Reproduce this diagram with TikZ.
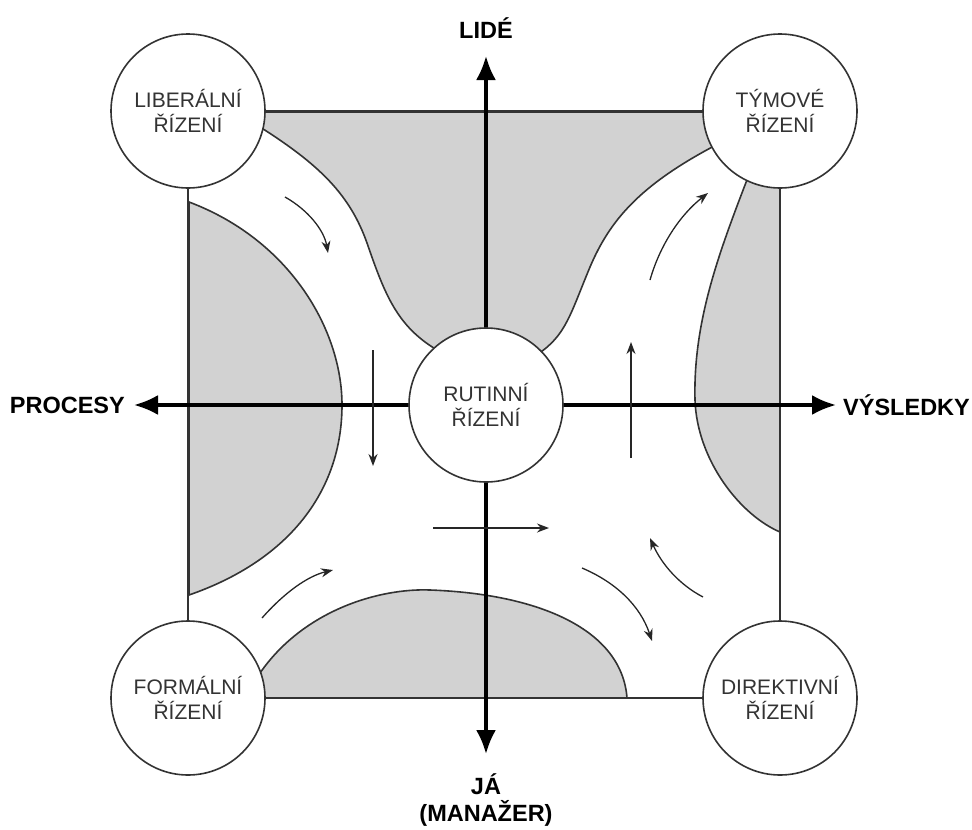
\documentclass[tikz,border=0pt]{standalone}
\usepackage{fontspec}
\setmainfont{Liberation Sans}
\usetikzlibrary{arrows.meta,backgrounds}
\definecolor{shade}{HTML}{D2D2D2}
\definecolor{ink}{HTML}{333333}
\tikzset{
  mode/.style={circle,draw=ink,line width=1.6pt,fill=white,minimum size=154pt,inner sep=0pt,
    align=center,text=ink,font=\fontsize{21}{25}\selectfont},
  frame/.style={draw=ink,line width=1.6pt},
  zone/.style={fill=shade,draw=ink,line width=1.6pt},
  axis/.style={line width=3.2pt,-{Latex[length=24pt,width=20pt]}},
  flow/.style={line width=1.3pt,draw=black!85,-{Stealth[length=12pt,width=9pt]}},
  axislabel/.style={font=\fontsize{23.5}{27}\bfseries\selectfont,inner sep=0pt}
}
\begin{document}
\begin{tikzpicture}[x=1pt,y=-1pt]
\useasboundingbox (0,0) rectangle (972,830);
% circles
\node[mode] (lib) at (188,111) {LIBERÁLNÍ\\ŘÍZENÍ};
\node[mode] (tym) at (780,111) {TÝMOVÉ\\ŘÍZENÍ};
\node[mode] (for) at (188,698) {FORMÁLNÍ\\ŘÍZENÍ};
\node[mode] (dir) at (780,698) {DIREKTIVNÍ\\ŘÍZENÍ};
\node[mode] (rut) at (486,405) {RUTINNÍ\\ŘÍZENÍ};
% tips and labels
\coordinate (ntip) at (486,56);
\coordinate (stip) at (486,754);
\coordinate (wtip) at (134,405);
\coordinate (etip) at (836,405);
\node[axislabel] (lide) at (486,28) {LIDÉ};
\node[axislabel,anchor=east] (proc) at (125,405) {PROCESY};
\node[axislabel,anchor=west] (vysl) at (843,405) {VÝSLEDKY};
\node[axislabel,align=center,font=\fontsize{23.5}{27}\bfseries\selectfont] (ja) at (486,800) {JÁ\\(MANAŽER)};
\begin{scope}[on background layer]
  % top zone
  \path[zone] (188,112) -- (780,112) -- (716,145)
    .. controls (640,185) and (610,220) .. (590,267)
    .. controls (570,315) and (566,335) .. (538,354)
    -- (486,405) -- (437,350)
    .. controls (397,326) and (385,295) .. (367,243)
    .. controls (350,195) and (320,165) .. (260,127) -- cycle;
  % left zone
  \path[zone] (189,202) .. controls (290,240) and (342,330) .. (342,405)
    .. controls (342,490) and (290,560) .. (189,595) -- cycle;
  % right zone
  \path[zone] (750,172) .. controls (720,250) and (693,320) .. (695,400)
    .. controls (697,460) and (740,515) .. (780,532) -- (780,112) -- cycle;
  % bottom zone
  \path[zone] (256,679) .. controls (300,610) and (380,588) .. (430,590)
    .. controls (540,594) and (622,630) .. (627,698) -- (189,698) -- cycle;
  % frame
  \draw[frame] (lib) -- (tym);
  \draw[frame] (tym) -- (dir);
  \draw[frame] (dir) -- (for);
  \draw[frame] (for) -- (lib);
\end{scope}
% axes
\draw[axis] (rut) -- (ntip);
\draw[axis] (rut) -- (stip);
\draw[axis] (rut) -- (wtip);
\draw[axis] (rut) -- (etip);
% flow arrows
\draw[flow] (285,197) .. controls (308,210) and (324,230) .. (328,253);
\draw[flow] (373,350) -- (373,466);
\draw[flow] (262,618) .. controls (285,592) and (308,576) .. (333,570);
\draw[flow] (433,528) -- (549,528);
\draw[flow] (631,458) -- (631,342);
\draw[flow] (650,280) .. controls (660,245) and (680,215) .. (708,193);
\draw[flow] (582,568) .. controls (615,582) and (640,605) .. (652,641);
\draw[flow] (703,597) .. controls (680,585) and (662,565) .. (650,538);
\end{tikzpicture}
\end{document}
